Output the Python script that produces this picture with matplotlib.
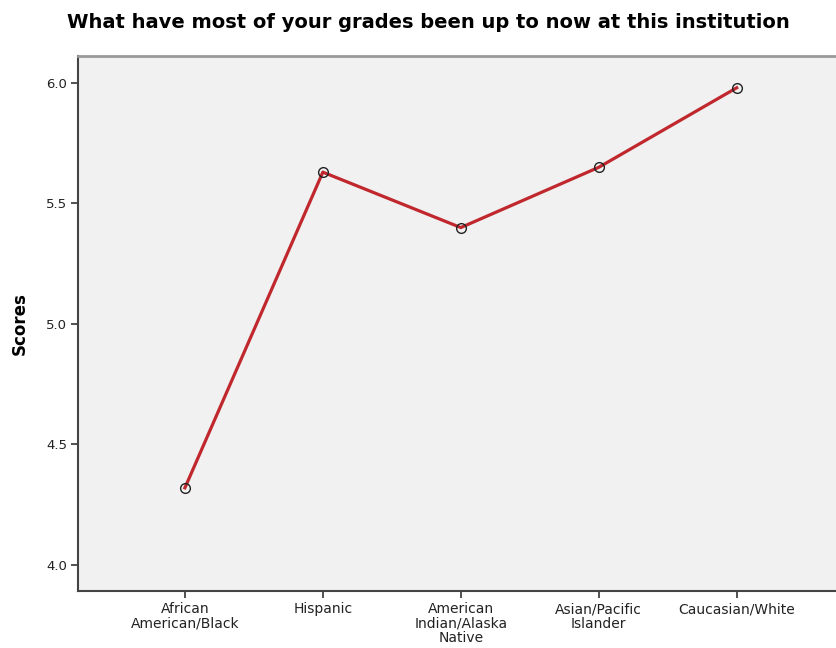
import matplotlib.pyplot as plt

categories = ["African\nAmerican/Black", "Hispanic", "American\nIndian/Alaska\nNative",
              "Asian/Pacific\nIslander", "Caucasian/White"]
scores = [4.32, 5.63, 5.40, 5.65, 5.98]
yticks = [4.0, 4.5, 5.0, 5.5, 6.0]

fig = plt.figure(figsize=(8.36, 6.48), dpi=100)
ax = fig.add_axes([0.0933, 0.088, 0.9067, 0.8256])
ax.set_facecolor("#f1f1f1")

x = list(range(len(categories)))
ax.plot(x, scores, color="#c0282d", lw=2.3, zorder=2)
ax.plot(x, scores, ls="none", marker="o", ms=7, mfc="none", mec="#222222", mew=1.0, zorder=3)

ax.set_xlim(-0.775, 4.72)
ax.set_ylim(3.892, 6.112)
ax.set_xticks(x)
ax.set_xticklabels(categories, fontsize=10, linespacing=1.05)
ax.set_yticks(yticks)
ax.set_yticklabels(["%.1f" % v for v in yticks], fontsize=9.5)
ax.tick_params(axis="both", direction="out", length=5, width=1.2, color="#333333", labelcolor="#222222", pad=3)

for s in ["left", "bottom"]:
    ax.spines[s].set_color("#444444")
    ax.spines[s].set_linewidth(1.5)
ax.spines["top"].set_color("#999999")
ax.spines["top"].set_linewidth(2)
ax.spines["right"].set_visible(False)

ax.set_ylabel("Scores", fontsize=12, fontweight="bold", labelpad=12)
fig.text(0.512, 0.965, "What have most of your grades been up to now at this institution",
         ha="center", va="center", fontsize=14, fontweight="bold")

fig.savefig("out.png", dpi=100)
